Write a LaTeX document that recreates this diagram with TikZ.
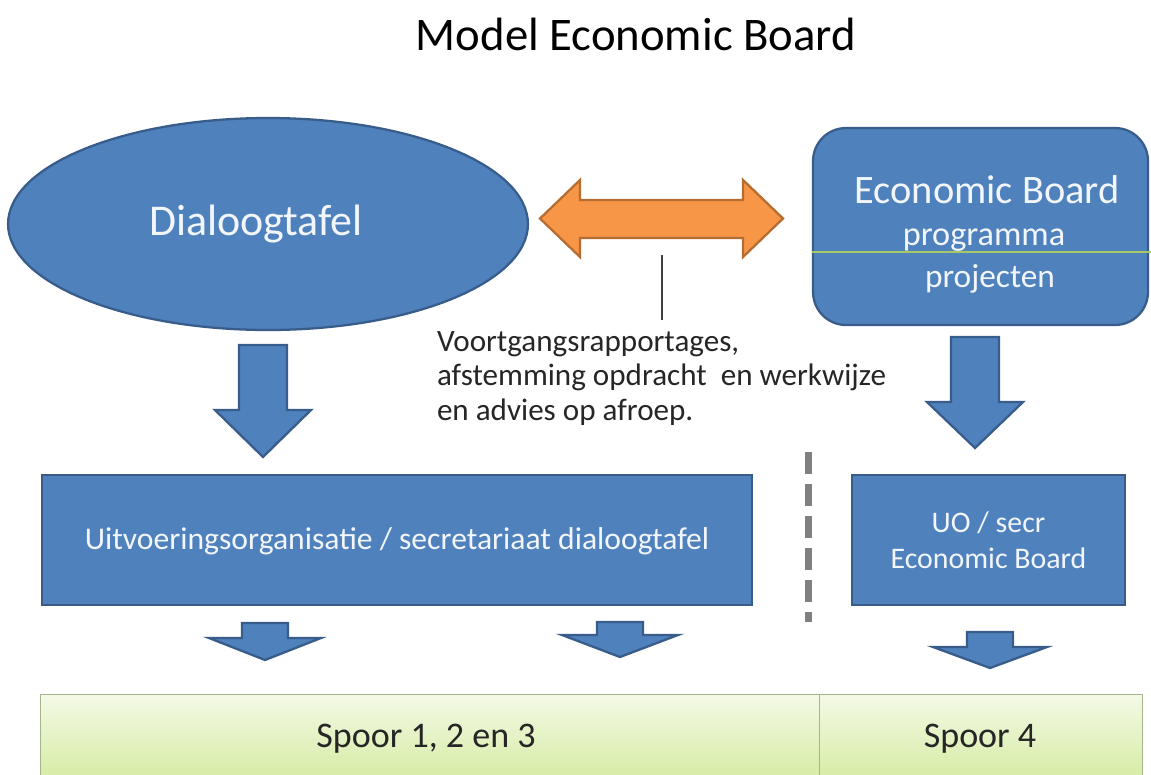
\documentclass[tikz,border=0pt]{standalone}
\usepackage{fontspec}
\setmainfont{Carlito}
\usetikzlibrary{shapes.geometric}
\definecolor{bluefill}{HTML}{4F81BD}
\definecolor{blueline}{HTML}{385D8A}
\definecolor{orfill}{HTML}{F79646}
\definecolor{orline}{HTML}{B66D31}
\definecolor{greentop}{HTML}{F3F9E6}
\definecolor{greenbot}{HTML}{D4EB9F}
\definecolor{greenline}{HTML}{A3B58A}
\definecolor{sepline}{HTML}{A8C868}
\definecolor{lighttext}{HTML}{F2F6FB}
\newcommand\fsz[1]{\fontsize{#1}{1.15\dimexpr #1pt\relax}\selectfont}
\newcommand\downblock[6]{%
  \filldraw[blockarrow] ({#1-#3},#2) -- ({#1+#3},#2) -- ({#1+#3},#4) -- ({#1+#5},#4)
    -- (#1,#6) -- ({#1-#5},#4) -- ({#1-#3},#4) -- cycle;}
\tikzset{
  blueshape/.style={fill=bluefill, draw=blueline, line width=1.3pt, inner sep=0pt, text=lighttext},
  blockarrow/.style={fill=bluefill, draw=blueline, line width=1.3pt, line join=miter},
  greenbar/.style={top color=greentop, bottom color=greenbot, draw=greenline, line width=0.8pt},
  plain/.style={inner sep=0pt, outer sep=0pt},
}
\begin{document}
\begin{tikzpicture}[x=0.02cm, y=-0.02cm]
\useasboundingbox (0,0) rectangle (1151,774);
\fill[white] (0,0) rectangle (1151,774);

% title
\node[plain, anchor=base] (title) at (636,50) {\fsz{26.6}Model Economic Board};

% ellipse
\node[blueshape, ellipse, minimum width=10.4cm, minimum height=4.24cm] (dialoog) at (268,224) {};
\node[plain, anchor=base, text=lighttext] (dialoogtxt) at (256,235) {\fsz{25}Dialoogtafel};

% economic board rounded box
\node[blueshape, rectangle, rounded corners=0.66cm, minimum width=6.7cm, minimum height=3.94cm] (eb) at (980.5,226.5) {};
\draw[sepline, line width=1.3pt] (eb.west |- 0,252) -- (1151,252);
\node[plain, anchor=base, text=lighttext] (ebtitle) at (987,203) {\fsz{23}Economic Board};
\node[plain, anchor=base, text=lighttext] (ebprog) at (984,245) {\fsz{19.5}programma};
\node[plain, anchor=base, text=lighttext] (ebproj) at (990,287) {\fsz{19}projecten};

% orange double arrow
\filldraw[fill=orfill, draw=orline, line width=1.3pt, line join=miter]
  (540,218.5) -- (580,180) -- (580,200) -- (743,200) -- (743,180) -- (783,218.5)
  -- (743,257) -- (743,238) -- (580,238) -- (580,257) -- cycle;

% callout line and text
\coordinate (lnTop) at (662,255);
\coordinate (lnBot) at (662,320);
\draw[black!75, line width=1pt] (lnTop) -- (lnBot);
\node[plain, anchor=base west, align=left, text=black!85,
  font=\fontsize{17.7}{19.4}\selectfont] (note) at (437,420)
  {Voortgangsrapportages,\\ afstemming opdracht\ \ en werkwijze\\ en advies op afroep.};

% down arrows from top shapes
\downblock{263}{345}{24}{410}{48}{457}
\downblock{975}{337}{24}{402}{48}{448}

% execution boxes
\node[blueshape, rectangle, minimum width=14.2cm, minimum height=2.6cm] (uo) at (397,540) {};
\node[plain, text=lighttext] (uotxt) at (397,541) {\fsz{18}Uitvoeringsorganisatie / secretariaat dialoogtafel};
\node[blueshape, rectangle, minimum width=5.46cm, minimum height=2.6cm] (uoeb) at (988.5,540) {};
\node[plain, anchor=base, align=center, text=lighttext,
  font=\fontsize{17}{20}\selectfont] (uoebtxt) at (988.5,568) {UO / secr\\ Economic Board};

% dashed separator
\coordinate (dashTop) at (808,452);
\coordinate (dashBot) at (808,622);
\draw[black!50, line width=4pt, dash pattern=on 0.44cm off 0.2cm] (dashTop) -- (dashBot);

% small down arrows
\downblock{265}{623}{23}{638}{56}{660}
\downblock{620}{622}{23}{635}{58}{657}
\downblock{990}{632}{23}{647}{57}{668}

% bottom green bars
\node[greenbar, rectangle, minimum width=15.58cm, minimum height=1.8cm, anchor=north west] (spoorA) at (40,694) {};
\node[greenbar, rectangle, minimum width=6.46cm, minimum height=1.8cm, anchor=north west] (spoorB) at (819,694) {};
\node[plain, anchor=base, text=black!85] (spoorAtxt) at (426,747) {\fsz{20.5}Spoor 1, 2 en 3};
\node[plain, anchor=base, text=black!85] (spoorBtxt) at (980,747) {\fsz{20.5}Spoor 4};
\end{tikzpicture}
\end{document}
